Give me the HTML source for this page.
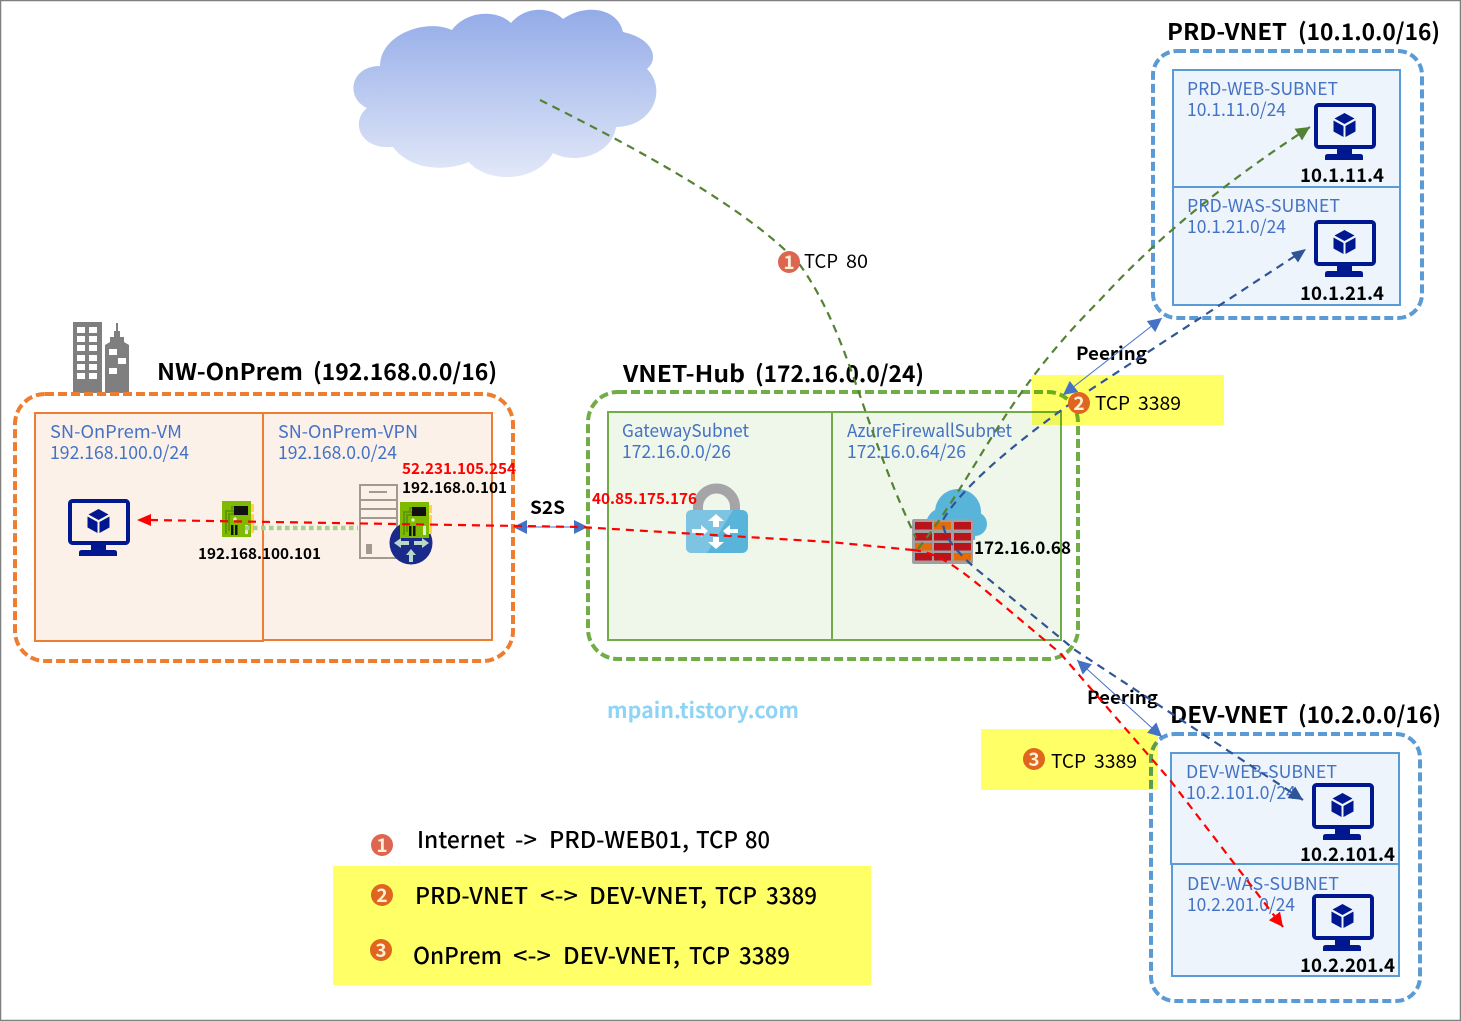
<!DOCTYPE html>
<html><head><meta charset="utf-8">
<style>
html,body{margin:0;padding:0;background:#fff}
svg{display:block}
text{font-family:"Noto Sans CJK KR","Liberation Sans",sans-serif}
.t{font-size:23px;font-weight:700;fill:#000}
.s{font-size:18px;fill:#4472C4}
.i{font-size:19px;font-weight:700;fill:#000}
.m{font-size:15px;font-weight:700;fill:#000}
.r{font-size:15px;font-weight:700;fill:#f00}
.p{font-size:18px;font-weight:700;fill:#000}
.c{font-size:19px;fill:#000}
.l{font-size:23px;font-weight:500;fill:#000}
.b{font-size:19px;font-weight:700;fill:#FFF0D8;text-anchor:middle}
</style></head><body>
<svg width="1461" height="1021" viewBox="0 0 1461 1021" xmlns="http://www.w3.org/2000/svg">
<defs>
<linearGradient id="cg" x1="0" y1="0" x2="0" y2="1"><stop offset="0" stop-color="#93ABE8"/><stop offset="1" stop-color="#E2E8F8"/></linearGradient>
<symbol id="mon" width="62" height="58" viewBox="0 0 62 58">
<rect x="2" y="2" width="58" height="42" rx="2.500" fill="none" stroke="#00188F" stroke-width="4"/>
<path d="M23 45h15v6h8q3 0 3 2.500v3.500H11v-3.500q0-2.500 3-2.500h9z" fill="#00188F"/>
<path d="M30.500 10l10 5.500-10 5.500-10-5.500z M19.500 17.500l10 5.500v11l-10-5.500z M41.500 17.500v11l-10 5.500v-11z" fill="#00188F"/>
</symbol>
<symbol id="nic" width="34" height="38" viewBox="0 0 34 38">
<rect x="29" y="3" width="3" height="8" fill="#FFD44A"/><rect x="29" y="13" width="3" height="19" fill="#FFD44A"/>
<rect x="0" y="0" width="29" height="36" fill="#7FB900"/>
<path d="M4 33V10h6V6h12" fill="none" stroke="#5F9A00" stroke-width="2"/>
<path d="M7 30V13h5V9" fill="none" stroke="#5F9A00" stroke-width="2"/>
<rect x="12" y="5" width="14" height="9" fill="#111"/>
<circle cx="13" cy="18" r="1.800" fill="#D9F0C0"/>
<rect x="9" y="24" width="2.500" height="10" fill="#111"/><rect x="13" y="24" width="2.500" height="10" fill="#111"/>
<rect x="23" y="24" width="3" height="9" fill="#DDEEDD"/>
</symbol>
<marker id="ag" markerUnits="userSpaceOnUse" markerWidth="16" markerHeight="14" refX="14" refY="7" orient="auto"><path d="M0 0L14 7L0 14z" fill="#548235"/></marker>
<marker id="an" markerUnits="userSpaceOnUse" markerWidth="16" markerHeight="14" refX="14" refY="7" orient="auto"><path d="M0 0L14 7L0 14z" fill="#2F5597"/></marker>
<marker id="ar" markerUnits="userSpaceOnUse" markerWidth="16" markerHeight="14" refX="14" refY="7" orient="auto"><path d="M0 0L14 7L0 14z" fill="#f00"/></marker>
<marker id="ab" markerUnits="userSpaceOnUse" markerWidth="16" markerHeight="14" refX="14" refY="7" orient="auto"><path d="M0 0L14 7L0 14z" fill="#4472C4"/></marker>
<marker id="abs" markerUnits="userSpaceOnUse" markerWidth="16" markerHeight="14" refX="2" refY="7" orient="auto"><path d="M16 0L2 7L16 14z" fill="#4472C4"/></marker>
</defs>

<rect x="0.500" y="0.500" width="1460" height="1020" fill="#fff" stroke="#808080" stroke-width="1.500"/>

<!-- cloud -->
<path d="M380 66C380 35 425 18 452 30C465 12 495 8 511 23C525 6 550 6 563 19C585 3 618 8 623 32C652 38 660 58 647 69C668 90 652 127 616 127C612 155 575 165 553 153C535 185 485 182 469 162C445 172 410 170 393 147C360 150 350 122 367 108C345 98 350 66 380 66Z" fill="url(#cg)"/>

<!-- building -->
<g fill="#7F7F7F">
<rect x="73" y="322" width="29" height="71"/>
<path d="M105 393V345L110 342V337H114V331H116V323H118V331H120V337H124V342L129 345V393z"/>
</g>
<g fill="#fff">
<rect x="77" y="327" width="8" height="6"/><rect x="89" y="327" width="8" height="6"/>
<rect x="77" y="336" width="8" height="6"/><rect x="89" y="336" width="8" height="6"/>
<rect x="77" y="345" width="8" height="6"/><rect x="89" y="345" width="8" height="6"/>
<rect x="77" y="355" width="8" height="6"/><rect x="89" y="355" width="8" height="6"/>
<rect x="77" y="364" width="8" height="6"/><rect x="89" y="364" width="8" height="6"/>
<rect x="77" y="373" width="8" height="6"/><rect x="89" y="373" width="8" height="6"/>
<rect x="109" y="349" width="8" height="6"/><rect x="118" y="358" width="8" height="6"/><rect x="109" y="368" width="8" height="6"/>
</g>

<!-- outer dashed -->
<g fill="none" stroke-width="4" stroke-dasharray="9 4">
<rect x="15" y="394" width="498" height="267" rx="30" stroke="#ED7D31"/>
<rect x="588" y="392" width="490" height="267" rx="30" stroke="#70AD47"/>
<rect x="1153" y="51" width="269" height="267" rx="24" stroke="#5B9BD5"/>
<rect x="1151" y="734" width="269" height="267" rx="24" stroke="#5B9BD5"/>
</g>

<!-- subnets -->
<g fill="#FBF1E9" stroke="#ED7D31" stroke-width="2">
<rect x="35" y="413" width="228" height="228"/><rect x="263" y="413" width="229" height="227"/>
</g>
<g fill="#EFF6EA" stroke="#70AD47" stroke-width="2">
<rect x="608" y="412" width="224" height="228"/><rect x="832" y="412" width="229" height="228"/>
</g>
<g fill="#EDF4FB" stroke="#5B9BD5" stroke-width="2">
<rect x="1173" y="70" width="227" height="117"/><rect x="1173" y="187" width="227" height="118"/>
<rect x="1171" y="753" width="228" height="111"/><rect x="1172" y="864" width="227" height="112"/>
</g>

<!-- yellow -->
<g fill="#FFFF66" style="mix-blend-mode:multiply">
<rect x="1032" y="375" width="192" height="50"/>
<rect x="981" y="729" width="177" height="61"/>
<rect x="333" y="866" width="538" height="119"/>
</g>

<!-- monitors -->
<use href="#mon" x="1314" y="103"/><use href="#mon" x="1314" y="220"/>
<use href="#mon" x="1312" y="783"/><use href="#mon" x="1312" y="894"/>
<use href="#mon" x="68" y="499"/>

<!-- server + router + nic -->
<g fill="none" stroke="#A39A8E" stroke-width="2">
<rect x="360" y="485" width="37" height="73"/>
<path d="M360 500H397M360 509H397M360 518H397M369 492H387"/>
</g>
<rect x="366" y="544" width="6" height="10" fill="#A39A8E"/>
<circle cx="411" cy="543" r="21.500" fill="#1B2A8A"/>
<g fill="#B8D8C8"><path d="M394 543l7-5v3h8v4h-8v3z"/><path d="M429 543l-7-5v3h-8v4h8v3z"/><path d="M411 549l5 6h-3v7h-4v-7h-3z"/></g>
<use href="#nic" x="222" y="501"/><use href="#nic" x="400" y="502"/>

<!-- gateway -->
<path d="M698 513V507A18.500 18.500 0 0 1 735 507V513" fill="none" stroke="#A5A5A7" stroke-width="10"/>
<rect x="686" y="510" width="62" height="43" rx="6" fill="#59B4D9"/>
<path d="M692 510H733L707 553H692Q686 553 686 547V516Q686 510 692 510z" fill="#7CC4E2"/>
<g fill="#fff">
<path d="M716 514l8 7h-5v6h-6v-6h-5z"/><path d="M716 549l8-7h-5v-5h-6v5h-5z"/>
<path d="M708 531l-7-6v4h-9v4h9v4z"/><path d="M723 531l7-6v4h8v4h-8v4z"/>
</g>

<!-- firewall -->
<g fill="#59B4D9"><circle cx="958" cy="512" r="23"/><circle cx="943" cy="525" r="17"/><circle cx="975" cy="524" r="12"/><rect x="940" y="515" width="35" height="25"/></g>
<rect x="912" y="519" width="61" height="45" rx="2" fill="#A0A0A2"/>
<g fill="#BA141A">
<rect x="915" y="522" width="17" height="7.500"/><rect x="954" y="522" width="17" height="7.500"/>
<rect x="915" y="533" width="17" height="7.500"/><rect x="934" y="533" width="17" height="7.500"/><rect x="954" y="533" width="17" height="7.500"/>
<rect x="934" y="543" width="17" height="7.500"/><rect x="954" y="543" width="17" height="7.500"/>
<rect x="915" y="553" width="17" height="7.500"/><rect x="934" y="553" width="17" height="7.500"/>
</g>
<g fill="#E36C09"><rect x="934" y="522" width="17" height="7.500"/><rect x="915" y="543" width="17" height="7.500"/><rect x="954" y="553" width="17" height="7.500"/></g>

<!-- titles -->
<text class="t" x="1167" y="40" textLength="120" lengthAdjust="spacingAndGlyphs">PRD-VNET</text>
<text class="t" x="1298" y="40" textLength="142" lengthAdjust="spacingAndGlyphs">(10.1.0.0/16)</text>
<text class="t" x="157" y="380" textLength="146" lengthAdjust="spacingAndGlyphs">NW-OnPrem</text>
<text class="t" x="313" y="380" textLength="184" lengthAdjust="spacingAndGlyphs">(192.168.0.0/16)</text>
<text class="t" x="623" y="382" textLength="122" lengthAdjust="spacingAndGlyphs">VNET-Hub</text>
<text class="t" x="755" y="382" textLength="169" lengthAdjust="spacingAndGlyphs">(172.16.0.0/24)</text>
<text class="t" x="1170" y="723" textLength="118" lengthAdjust="spacingAndGlyphs">DEV-VNET</text>
<text class="t" x="1298" y="723" textLength="143" lengthAdjust="spacingAndGlyphs">(10.2.0.0/16)</text>

<!-- subnet labels -->
<text class="s" x="1187" y="95" textLength="151" lengthAdjust="spacingAndGlyphs">PRD-WEB-SUBNET</text>
<text class="s" x="1187" y="116" textLength="99" lengthAdjust="spacingAndGlyphs">10.1.11.0/24</text>
<text class="s" x="1187" y="212" textLength="153" lengthAdjust="spacingAndGlyphs">PRD-WAS-SUBNET</text>
<text class="s" x="1187" y="233" textLength="99" lengthAdjust="spacingAndGlyphs">10.1.21.0/24</text>
<text class="s" x="1186" y="778" textLength="151" lengthAdjust="spacingAndGlyphs">DEV-WEB-SUBNET</text>
<text class="s" x="1186" y="799" textLength="110" lengthAdjust="spacingAndGlyphs">10.2.101.0/24</text>
<text class="s" x="1187" y="890" textLength="152" lengthAdjust="spacingAndGlyphs">DEV-WAS-SUBNET</text>
<text class="s" x="1187" y="911" textLength="108" lengthAdjust="spacingAndGlyphs">10.2.201.0/24</text>
<text class="s" x="50" y="438" textLength="132" lengthAdjust="spacingAndGlyphs">SN-OnPrem-VM</text>
<text class="s" x="50" y="459" textLength="139" lengthAdjust="spacingAndGlyphs">192.168.100.0/24</text>
<text class="s" x="278" y="438" textLength="140" lengthAdjust="spacingAndGlyphs">SN-OnPrem-VPN</text>
<text class="s" x="278" y="459" textLength="119" lengthAdjust="spacingAndGlyphs">192.168.0.0/24</text>
<text class="s" x="622" y="437" textLength="127" lengthAdjust="spacingAndGlyphs">GatewaySubnet</text>
<text class="s" x="622" y="458" textLength="109" lengthAdjust="spacingAndGlyphs">172.16.0.0/26</text>
<text class="s" x="847" y="437" textLength="165" lengthAdjust="spacingAndGlyphs">AzureFirewallSubnet</text>
<text class="s" x="847" y="458" textLength="119" lengthAdjust="spacingAndGlyphs">172.16.0.64/26</text>

<!-- ip labels -->
<text class="i" x="1300" y="182" textLength="84" lengthAdjust="spacingAndGlyphs">10.1.11.4</text>
<text class="i" x="1300" y="300" textLength="84" lengthAdjust="spacingAndGlyphs">10.1.21.4</text>
<text class="i" x="1300" y="861" textLength="95" lengthAdjust="spacingAndGlyphs">10.2.101.4</text>
<text class="i" x="1300" y="972" textLength="95" lengthAdjust="spacingAndGlyphs">10.2.201.4</text>
<text class="r" x="402" y="474" textLength="114" lengthAdjust="spacingAndGlyphs">52.231.105.254</text>
<text class="m" x="402" y="493" textLength="105" lengthAdjust="spacingAndGlyphs">192.168.0.101</text>
<text class="m" x="198" y="559" textLength="123" lengthAdjust="spacingAndGlyphs">192.168.100.101</text>
<text class="r" x="592" y="504" textLength="105" lengthAdjust="spacingAndGlyphs">40.85.175.176</text>
<text class="m" style="font-size:17px" x="974" y="554" textLength="97" lengthAdjust="spacingAndGlyphs">172.16.0.68</text>
<text class="p" x="530" y="514" textLength="35" lengthAdjust="spacingAndGlyphs">S2S</text>
<text class="p" x="1076" y="360" textLength="71" lengthAdjust="spacingAndGlyphs">Peering</text>
<text class="p" x="1087" y="704" textLength="71" lengthAdjust="spacingAndGlyphs">Peering</text>

<text class="c" x="804" y="268" textLength="34" lengthAdjust="spacingAndGlyphs">TCP</text><text class="c" x="846" y="268" textLength="22" lengthAdjust="spacingAndGlyphs">80</text>
<text class="c" x="1095" y="410" textLength="35" lengthAdjust="spacingAndGlyphs">TCP</text><text class="c" x="1138" y="410" textLength="43" lengthAdjust="spacingAndGlyphs">3389</text>
<text class="c" x="1051" y="768" textLength="35" lengthAdjust="spacingAndGlyphs">TCP</text><text class="c" x="1094" y="768" textLength="43" lengthAdjust="spacingAndGlyphs">3389</text>

<text class="l" x="417" y="848" textLength="88" lengthAdjust="spacingAndGlyphs">Internet</text>
<text class="l" x="515" y="848" textLength="22" lengthAdjust="spacingAndGlyphs">-&gt;</text>
<text class="l" x="549" y="848" textLength="140" lengthAdjust="spacingAndGlyphs">PRD-WEB01,</text>
<text class="l" x="696" y="848" textLength="42" lengthAdjust="spacingAndGlyphs">TCP</text>
<text class="l" x="745" y="848" textLength="25" lengthAdjust="spacingAndGlyphs">80</text>

<text class="l" x="415" y="904" textLength="113" lengthAdjust="spacingAndGlyphs">PRD-VNET</text>
<text class="l" x="540" y="904" textLength="38" lengthAdjust="spacingAndGlyphs">&lt;-&gt;</text>
<text class="l" x="589" y="904" textLength="118" lengthAdjust="spacingAndGlyphs">DEV-VNET,</text>
<text class="l" x="715" y="904" textLength="42" lengthAdjust="spacingAndGlyphs">TCP</text>
<text class="l" x="766" y="904" textLength="51" lengthAdjust="spacingAndGlyphs">3389</text>

<text class="l" x="413" y="964" textLength="89" lengthAdjust="spacingAndGlyphs">OnPrem</text>
<text class="l" x="513" y="964" textLength="38" lengthAdjust="spacingAndGlyphs">&lt;-&gt;</text>
<text class="l" x="563" y="964" textLength="117" lengthAdjust="spacingAndGlyphs">DEV-VNET,</text>
<text class="l" x="689" y="964" textLength="41" lengthAdjust="spacingAndGlyphs">TCP</text>
<text class="l" x="739" y="964" textLength="51" lengthAdjust="spacingAndGlyphs">3389</text>

<text x="607" y="718" textLength="192" lengthAdjust="spacingAndGlyphs" style="font-size:21px;font-weight:700;fill:#8ED4F5">mpain.tistory.com</text>

<!-- connectors -->
<line x1="245" y1="528" x2="358" y2="528" stroke="#A9D18E" stroke-width="4.500" stroke-dasharray="4.500 3.500"/>
<g fill="none" stroke-width="1" stroke="#4472C4">
<line x1="513" y1="527" x2="588" y2="527" marker-start="url(#abs)" marker-end="url(#ab)"/>
<line x1="1063" y1="395" x2="1162" y2="318" marker-start="url(#abs)" marker-end="url(#ab)"/>
<line x1="1077" y1="660" x2="1162" y2="737" marker-start="url(#abs)" marker-end="url(#ab)"/>
</g>
<g fill="none" stroke-width="2.200" stroke-dasharray="8 6">
<path d="M540 100C640 150 750 210 800 265C850 335 860 420 916 538" stroke="#548235"/>
<path d="M918 549C980 470 1000 400 1100 300C1150 245 1220 185 1310 127" stroke="#548235" marker-end="url(#ag)"/>
<path d="M1295 256L1090 390C1010 445 960 490 943 520C942 535 955 550 975 568L1075 650L1303 800" stroke="#2F5597" marker-end="url(#an)"/>
<path d="M150 520L580 527L830 542L913 550" stroke="#f00"/>
<path d="M913 550C935 552 955 565 985 590L1060 653L1170 780L1283 927" stroke="#f00" marker-end="url(#ar)"/>
</g>
<path d="M137 520l14-6v12z" fill="#f00"/>
<path d="M1306 249l-15 3.500 7 10z" fill="#2F5597"/>

<!-- badges -->
<g>
<circle cx="789" cy="262" r="11" fill="#DD6650"/><text class="b" x="789" y="269">1</text>
<circle cx="1079" cy="403" r="11" fill="#E0651E"/><text class="b" x="1079" y="410">2</text>
<circle cx="1034" cy="759" r="11" fill="#E0651E"/><text class="b" x="1034" y="766">3</text>
<circle cx="382" cy="845" r="11" fill="#DD6650"/><text class="b" x="382" y="852">1</text>
<circle cx="382" cy="895" r="11" fill="#E0651E"/><text class="b" x="382" y="902">2</text>
<circle cx="381" cy="950" r="11" fill="#E0651E"/><text class="b" x="381" y="957">3</text>
</g>
</svg>
</body></html>
